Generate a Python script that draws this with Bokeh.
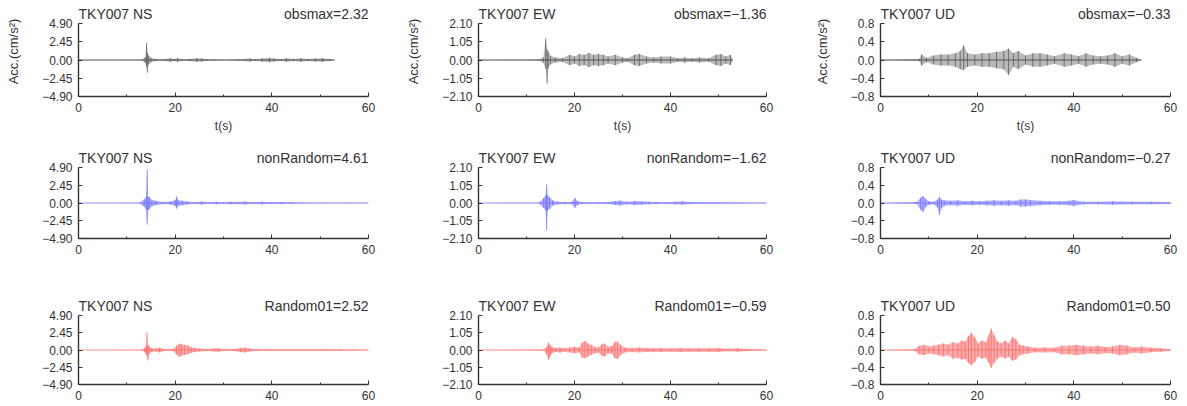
from bokeh.plotting import figure
from bokeh.models import Label, FixedTicker, CustomJSTickFormatter, Range1d
from bokeh.layouts import column, row
from bokeh.embed import file_html
from bokeh.resources import INLINE

# ---------------- data (envelopes) ----------------
STATION = "TKY007"
COMPONENTS = ["NS", "EW", "UD"]
SERIES = ["obsmax", "nonRandom", "Random01"]
PEAKS = {
    ("obsmax", "NS"): "2.32", ("obsmax", "EW"): "\u22121.36", ("obsmax", "UD"): "\u22120.33",
    ("nonRandom", "NS"): "4.61", ("nonRandom", "EW"): "\u22121.62", ("nonRandom", "UD"): "\u22120.27",
    ("Random01", "NS"): "2.52", ("Random01", "EW"): "\u22120.59", ("Random01", "UD"): "0.50",
}
Y_LIMIT = {"NS": 4.9, "EW": 2.1, "UD": 0.8}
Y_TICKS = {"NS": [-4.9, -2.45, 0.0, 2.45, 4.9],
           "EW": [-2.1, -1.05, 0.0, 1.05, 2.1],
           "UD": [-0.8, -0.4, 0.0, 0.4, 0.8]}
Y_DECIMALS = {"NS": 2, "EW": 2, "UD": 1}
X_TICKS = [0, 20, 40, 60]
X_MINOR = [10, 30, 50]

# observed
OBS_NS_T = [0, 13.0, 13.8, 14.1, 14.25, 14.5, 15.0, 16.0, 17.5, 19.0, 19.7, 20.5, 21.5, 23.0, 24.5, 25.5, 26.5, 28.0, 30.0, 33.0, 35.5, 36.5, 38.0, 39.5, 40.5, 42.0, 43.0, 44.5, 46.0, 47.5, 49.0, 50.5, 52.0, 53.0]
OBS_NS_HI = [0, 0.02, 0.4, 2.32, 1.0, 0.6, 0.3, 0.15, 0.1, 0.25, 0.15, 0.25, 0.1, 0.15, 0.25, 0.2, 0.1, 0.1, 0.05, 0.1, 0.2, 0.1, 0.2, 0.3, 0.2, 0.15, 0.25, 0.15, 0.25, 0.15, 0.2, 0.25, 0.15, 0]
OBS_NS_LO = [0, -0.02, -0.4, -0.9, -1.7, -0.6, -0.3, -0.15, -0.1, -0.25, -0.15, -0.25, -0.1, -0.15, -0.25, -0.2, -0.1, -0.1, -0.05, -0.1, -0.2, -0.1, -0.2, -0.3, -0.2, -0.15, -0.25, -0.15, -0.25, -0.15, -0.2, -0.25, -0.15, 0]

OBS_EW_T = [0, 12.5, 13.5, 14.0, 14.3, 14.5, 15.0, 16.0, 17.5, 19.0, 20.0, 21.0, 22.0, 23.0, 24.0, 25.0, 26.0, 27.0, 28.5, 30.0, 31.0, 32.5, 33.5, 35.0, 36.5, 38.0, 40.0, 41.5, 43.0, 44.5, 46.0, 48.0, 49.5, 50.5, 51.5, 52.5, 53.0]
OBS_EW_HI = [0, 0.03, 0.15, 1.25, 0.6, 0.5, 0.25, 0.15, 0.12, 0.3, 0.2, 0.35, 0.3, 0.4, 0.3, 0.35, 0.3, 0.2, 0.3, 0.15, 0.1, 0.3, 0.35, 0.2, 0.15, 0.2, 0.2, 0.1, 0.15, 0.1, 0.15, 0.1, 0.3, 0.35, 0.2, 0.3, 0]
OBS_EW_LO = [0, -0.03, -0.15, -0.5, -1.36, -0.5, -0.25, -0.15, -0.12, -0.3, -0.2, -0.35, -0.3, -0.4, -0.3, -0.35, -0.3, -0.2, -0.3, -0.15, -0.1, -0.3, -0.35, -0.2, -0.15, -0.2, -0.2, -0.1, -0.15, -0.1, -0.15, -0.1, -0.3, -0.35, -0.2, -0.3, 0]

OBS_UD_T = [0, 8.0, 8.5, 9.5, 11.0, 12.5, 14.0, 15.5, 16.5, 17.2, 18.0, 19.5, 21.0, 22.5, 24.0, 25.5, 26.5, 27.5, 28.5, 30.0, 31.5, 33.0, 34.5, 36.0, 38.0, 39.5, 41.0, 42.5, 44.0, 45.5, 47.0, 48.5, 50.0, 51.5, 53.0, 54.0]
OBS_UD_HI = [0, 0.02, 0.12, 0.05, 0.1, 0.12, 0.12, 0.15, 0.2, 0.32, 0.15, 0.12, 0.15, 0.15, 0.18, 0.2, 0.25, 0.15, 0.2, 0.1, 0.15, 0.15, 0.12, 0.08, 0.15, 0.12, 0.08, 0.15, 0.1, 0.08, 0.1, 0.15, 0.08, 0.12, 0.05, 0]
OBS_UD_LO = [0, -0.02, -0.12, -0.05, -0.1, -0.12, -0.12, -0.15, -0.2, -0.22, -0.15, -0.12, -0.15, -0.15, -0.18, -0.2, -0.33, -0.15, -0.2, -0.1, -0.15, -0.15, -0.12, -0.08, -0.15, -0.12, -0.08, -0.15, -0.1, -0.08, -0.1, -0.15, -0.08, -0.12, -0.05, 0]

# nonRandom simulation
NR_NS_T = [0, 12.5, 13.6, 14.0, 14.2, 14.4, 14.7, 15.2, 16.0, 17.5, 19.0, 20.0, 20.3, 20.6, 21.5, 22.5, 24.0, 25.5, 27.0, 28.5, 30.0, 31.5, 33.0, 34.5, 36.0, 38.0, 40.0, 42.0, 44.0, 46.0, 50.0, 55.0, 60.0]
NR_NS_HI = [0, 0.03, 0.5, 0.9, 4.61, 0.9, 0.8, 0.4, 0.3, 0.15, 0.2, 0.4, 0.9, 0.4, 0.3, 0.2, 0.1, 0.2, 0.12, 0.18, 0.1, 0.18, 0.15, 0.2, 0.12, 0.18, 0.12, 0.15, 0.1, 0.06, 0.05, 0.04, 0.02]
NR_NS_LO = [0, -0.03, -0.5, -0.9, -3.0, -1.0, -0.8, -0.4, -0.3, -0.15, -0.2, -0.4, -0.8, -0.4, -0.3, -0.2, -0.1, -0.2, -0.12, -0.18, -0.1, -0.18, -0.15, -0.2, -0.12, -0.18, -0.12, -0.15, -0.1, -0.06, -0.05, -0.04, -0.02]

NR_EW_T = [0, 12.5, 13.6, 14.0, 14.2, 14.4, 14.8, 15.5, 16.5, 18.0, 19.5, 20.1, 20.6, 21.5, 23.0, 25.0, 27.0, 28.5, 29.5, 31.0, 32.5, 34.0, 35.5, 37.0, 39.0, 41.0, 42.5, 44.0, 47.0, 50.0, 55.0, 60.0]
NR_EW_HI = [0, 0.02, 0.3, 0.45, 1.1, 0.45, 0.35, 0.15, 0.08, 0.06, 0.08, 0.3, 0.12, 0.06, 0.05, 0.05, 0.06, 0.12, 0.15, 0.08, 0.12, 0.1, 0.08, 0.06, 0.05, 0.08, 0.1, 0.06, 0.04, 0.04, 0.03, 0.02]
NR_EW_LO = [0, -0.02, -0.3, -0.45, -1.62, -0.45, -0.35, -0.15, -0.08, -0.06, -0.08, -0.3, -0.12, -0.06, -0.05, -0.05, -0.06, -0.12, -0.15, -0.08, -0.12, -0.1, -0.08, -0.06, -0.05, -0.08, -0.1, -0.06, -0.04, -0.04, -0.03, -0.02]

NR_UD_T = [0, 7.5, 8.3, 8.8, 9.3, 10.0, 11.0, 11.8, 12.2, 12.6, 13.2, 14.5, 16.0, 17.5, 19.0, 20.5, 22.0, 23.5, 25.0, 26.5, 28.0, 29.0, 30.0, 31.0, 33.0, 35.0, 37.0, 39.0, 40.0, 42.0, 45.0, 48.0, 52.0, 56.0, 60.0]
NR_UD_HI = [0, 0.02, 0.12, 0.16, 0.1, 0.04, 0.03, 0.08, 0.14, 0.08, 0.06, 0.05, 0.06, 0.04, 0.05, 0.04, 0.05, 0.06, 0.05, 0.06, 0.05, 0.08, 0.08, 0.07, 0.05, 0.04, 0.04, 0.05, 0.07, 0.03, 0.03, 0.04, 0.03, 0.03, 0.02]
NR_UD_LO = [0, -0.02, -0.15, -0.2, -0.1, -0.04, -0.03, -0.1, -0.27, -0.12, -0.06, -0.05, -0.06, -0.04, -0.05, -0.04, -0.05, -0.06, -0.05, -0.06, -0.05, -0.08, -0.08, -0.07, -0.05, -0.04, -0.04, -0.05, -0.07, -0.03, -0.03, -0.04, -0.03, -0.03, -0.02]

# Random01 simulation
R1_NS_T = [0, 13.0, 13.7, 14.0, 14.15, 14.35, 14.7, 15.2, 16.0, 16.8, 17.5, 18.5, 19.5, 20.3, 20.8, 21.3, 22.0, 22.7, 23.3, 24.0, 25.0, 26.5, 28.0, 29.0, 30.5, 32.0, 33.5, 34.5, 35.5, 37.0, 39.0, 42.0, 45.0, 48.0, 51.0, 54.0, 57.0, 60.0]
R1_NS_HI = [0, 0.03, 0.3, 0.6, 2.52, 0.7, 0.5, 0.25, 0.2, 0.35, 0.15, 0.1, 0.15, 0.6, 0.9, 0.8, 0.7, 0.6, 0.4, 0.3, 0.2, 0.15, 0.2, 0.25, 0.12, 0.15, 0.3, 0.35, 0.2, 0.1, 0.12, 0.1, 0.12, 0.1, 0.12, 0.1, 0.08, 0.05]
R1_NS_LO = [0, -0.03, -0.3, -0.6, -0.8, -1.5, -0.5, -0.25, -0.2, -0.35, -0.15, -0.1, -0.15, -0.6, -1.0, -0.8, -0.7, -0.6, -0.4, -0.3, -0.2, -0.15, -0.2, -0.25, -0.12, -0.15, -0.3, -0.35, -0.2, -0.1, -0.12, -0.1, -0.12, -0.1, -0.12, -0.1, -0.08, -0.05]

R1_EW_T = [0, 13.5, 14.2, 14.6, 14.9, 15.3, 16.0, 17.0, 18.0, 19.0, 20.0, 21.0, 21.6, 22.2, 22.8, 23.5, 24.3, 25.0, 25.7, 26.3, 27.0, 27.8, 28.4, 29.0, 29.6, 30.5, 32.0, 33.5, 35.0, 36.5, 38.0, 40.0, 42.0, 44.0, 46.0, 48.0, 50.0, 52.0, 54.0, 56.0, 58.0, 60.0]
R1_EW_HI = [0, 0.03, 0.2, 0.45, 0.3, 0.2, 0.12, 0.15, 0.1, 0.15, 0.2, 0.15, 0.45, 0.55, 0.4, 0.3, 0.2, 0.15, 0.35, 0.4, 0.2, 0.25, 0.5, 0.5, 0.3, 0.15, 0.12, 0.15, 0.12, 0.1, 0.12, 0.1, 0.12, 0.1, 0.1, 0.1, 0.12, 0.08, 0.1, 0.06, 0.04, 0.03]
R1_EW_LO = [0, -0.03, -0.25, -0.59, -0.4, -0.2, -0.12, -0.15, -0.1, -0.15, -0.2, -0.15, -0.45, -0.5, -0.4, -0.3, -0.2, -0.15, -0.35, -0.4, -0.2, -0.25, -0.5, -0.55, -0.3, -0.15, -0.12, -0.15, -0.12, -0.1, -0.12, -0.1, -0.12, -0.1, -0.1, -0.1, -0.12, -0.08, -0.1, -0.06, -0.04, -0.03]

R1_UD_T = [0, 7.0, 8.0, 9.0, 10.0, 11.0, 12.0, 13.0, 14.0, 15.0, 16.0, 16.8, 17.5, 18.2, 18.8, 19.5, 20.2, 21.0, 21.8, 22.4, 22.9, 23.5, 24.2, 25.0, 25.8, 26.5, 27.3, 28.0, 28.8, 29.5, 30.5, 32.0, 34.0, 36.0, 37.5, 39.0, 40.5, 42.0, 43.5, 45.0, 46.5, 48.0, 49.5, 51.0, 52.5, 54.0, 56.0, 58.0, 60.0]
R1_UD_HI = [0, 0.02, 0.1, 0.12, 0.08, 0.1, 0.12, 0.15, 0.12, 0.18, 0.15, 0.22, 0.2, 0.32, 0.4, 0.3, 0.15, 0.22, 0.18, 0.35, 0.5, 0.35, 0.2, 0.15, 0.22, 0.15, 0.3, 0.25, 0.12, 0.1, 0.08, 0.05, 0.06, 0.05, 0.1, 0.1, 0.12, 0.1, 0.08, 0.1, 0.07, 0.08, 0.12, 0.1, 0.06, 0.08, 0.05, 0.04, 0.02]
R1_UD_LO = [0, -0.02, -0.1, -0.12, -0.08, -0.1, -0.12, -0.15, -0.12, -0.2, -0.18, -0.22, -0.2, -0.3, -0.35, -0.28, -0.15, -0.2, -0.18, -0.3, -0.42, -0.3, -0.2, -0.15, -0.2, -0.15, -0.25, -0.22, -0.12, -0.1, -0.08, -0.05, -0.06, -0.05, -0.1, -0.1, -0.12, -0.1, -0.08, -0.1, -0.07, -0.08, -0.12, -0.1, -0.06, -0.08, -0.05, -0.04, -0.02]

WAVES = {
    ("obsmax", "NS"): (OBS_NS_T, OBS_NS_HI, OBS_NS_LO),
    ("obsmax", "EW"): (OBS_EW_T, OBS_EW_HI, OBS_EW_LO),
    ("obsmax", "UD"): (OBS_UD_T, OBS_UD_HI, OBS_UD_LO),
    ("nonRandom", "NS"): (NR_NS_T, NR_NS_HI, NR_NS_LO),
    ("nonRandom", "EW"): (NR_EW_T, NR_EW_HI, NR_EW_LO),
    ("nonRandom", "UD"): (NR_UD_T, NR_UD_HI, NR_UD_LO),
    ("Random01", "NS"): (R1_NS_T, R1_NS_HI, R1_NS_LO),
    ("Random01", "EW"): (R1_EW_T, R1_EW_HI, R1_EW_LO),
    ("Random01", "UD"): (R1_UD_T, R1_UD_HI, R1_UD_LO),
}

# ---------------- styling ----------------
FILL = {"obsmax": "#4a4a4a", "nonRandom": "#6464ff", "Random01": "#ff5a5a"}
BASE = {"obsmax": "#555555", "nonRandom": "#9a9aff", "Random01": "#ff9a9a"}
FILL_ALPHA = {"obsmax": 0.38, "nonRandom": 0.5, "Random01": 0.5}
FONT = "Liberation Sans"
TXT = "#333333"

COL_BORDERS = [(78, 290, 32), (78, 288, 24), (90, 290, 10)]   # left, frame, right
# top border, data height, bottom border ; title strip added above the data area
ROW_BORDERS = [(6, 73, 49), (5, 71, 52), (8, 69, 22)]
TITLE_STRIP = 17


def make_panel(series, comp, r, c):
    t, hi, lo = WAVES[(series, comp)]
    assert len(t) == len(hi) == len(lo)
    lim = Y_LIMIT[comp]
    bl, fw, br = COL_BORDERS[c]
    bt, dh, bb = ROW_BORDERS[r]
    ext = TITLE_STRIP * (2 * lim / dh)
    p = figure(frame_width=fw, frame_height=dh + TITLE_STRIP,
               min_border_left=bl, min_border_right=br,
               min_border_top=bt, min_border_bottom=bb,
               x_range=Range1d(0, 60), y_range=Range1d(-lim, lim + ext),
               output_backend="svg", toolbar_location=None)
    p.outline_line_color = None
    p.grid.visible = False
    p.background_fill_color = "white"
    p.border_fill_color = "white"

    p.line(t, [0] * len(t), line_color=BASE[series], line_width=1)
    p.varea(x=t, y1=lo, y2=hi, fill_color=FILL[series], fill_alpha=FILL_ALPHA[series])
    p.segment(x0=t, y0=lo, x1=t, y1=hi, line_color=FILL[series], line_width=0.9, line_alpha=0.75)

    for ax in (p.xaxis[0], p.yaxis[0]):
        ax.axis_line_color = TXT
        ax.axis_line_width = 1.4
        ax.major_tick_line_color = TXT
        ax.minor_tick_line_color = TXT
        ax.major_tick_in = 4
        ax.major_tick_out = 0
        ax.minor_tick_in = 2
        ax.minor_tick_out = 0
        ax.major_label_text_font = FONT
        ax.major_label_text_font_size = "12px"
        ax.major_label_text_color = TXT
        ax.major_label_standoff = 6
        ax.axis_label_text_font = FONT
        ax.axis_label_text_font_size = "12px"
        ax.axis_label_text_font_style = "normal"
        ax.axis_label_text_color = TXT

    p.yaxis.bounds = (-lim, lim)
    p.xaxis.ticker = FixedTicker(ticks=X_TICKS, minor_ticks=X_MINOR)
    p.yaxis.ticker = FixedTicker(ticks=Y_TICKS[comp])
    p.yaxis.formatter = CustomJSTickFormatter(
        args=dict(d=Y_DECIMALS[comp]),
        code="var s = Math.abs(tick).toFixed(d); return (tick < -1e-9 ? '\u2212' : '') + s;")
    if r == 0:
        p.xaxis.axis_label = "t(s)"
        p.xaxis.axis_label_standoff = 4
        p.yaxis.axis_label = "Acc.(cm/s\u00b2)"
        p.yaxis.axis_label_standoff = 18
        p.yaxis.axis_label_text_font_size = "13px"

    p.add_layout(Label(x=0, y=lim, text=f"{STATION} {comp}", y_offset=2,
                       text_baseline="bottom", text_align="left",
                       text_font=FONT, text_font_size="14px", text_color=TXT))
    p.add_layout(Label(x=60, y=lim, text=f"{series}={PEAKS[(series, comp)]}", y_offset=2,
                       text_baseline="bottom", text_align="right",
                       text_font=FONT, text_font_size="14px", text_color=TXT))
    return p


rows = []
for r, series in enumerate(SERIES):
    rows.append(row(*[make_panel(series, comp, r, c) for c, comp in enumerate(COMPONENTS)]))
layout = column(*rows)

open("out.html", "w").write(file_html(layout, INLINE))
